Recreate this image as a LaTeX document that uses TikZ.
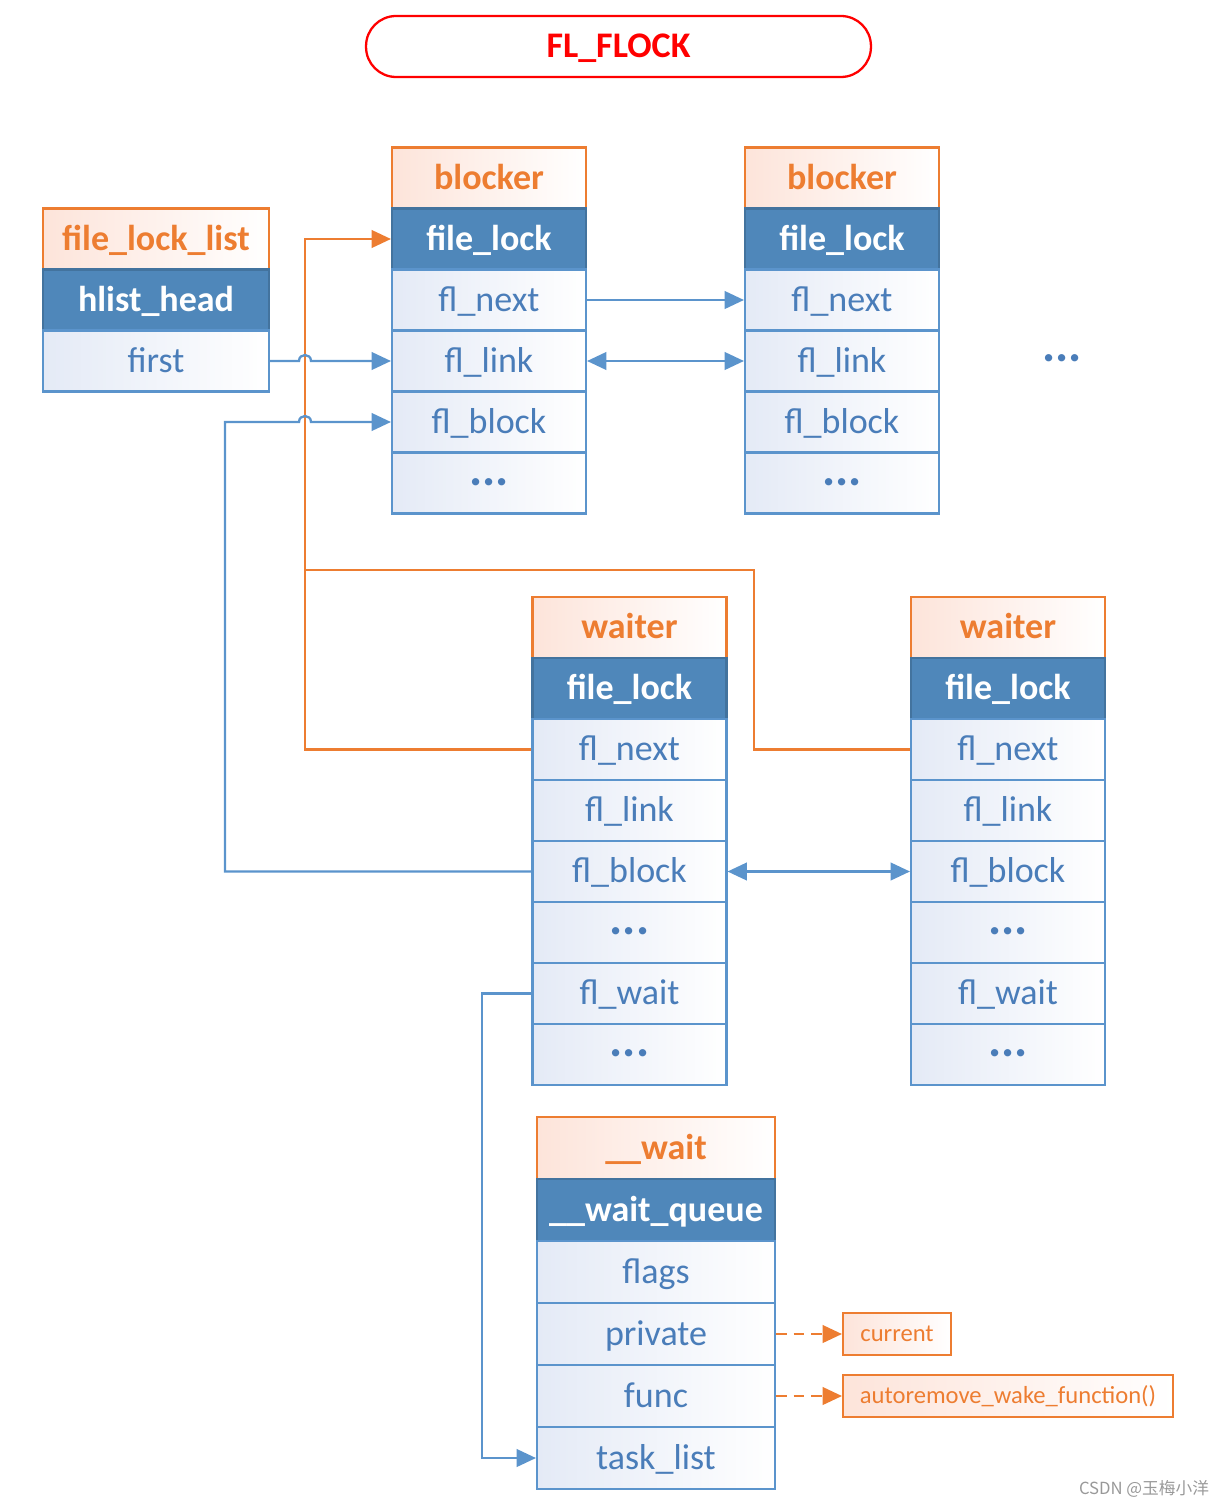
\documentclass[tikz,border=0pt]{standalone}
\usepackage{fontspec}
\setmainfont{Carlito}
\newfontfamily\cjkfont{Noto Sans CJK SC}
\usetikzlibrary{arrows.meta,calc}
\definecolor{orng}{HTML}{ED7D31}
\definecolor{lnblue}{HTML}{5B94CC}
\definecolor{hdblue}{HTML}{4F87BA}
\definecolor{txblue}{HTML}{4A7DB9}
\definecolor{cellbg}{HTML}{E4EAF6}
\definecolor{pinkbg}{HTML}{FDE4DA}
\definecolor{ttlred}{HTML}{FF0000}
\newcommand\celldots{\raisebox{5pt}{\fontsize{28}{28}\selectfont\bfseries ...}}
\begin{document}
\begin{tikzpicture}[x=0.02cm,y=-0.02cm,
    base/.style={rectangle, line width=1.2pt, inner sep=0pt, minimum height=1.22cm,
      text height=16.7pt, text depth=4pt},
    hdr/.style={base, draw=orng, text=orng, font=\fontsize{20.5}{24}\selectfont\bfseries,
      left color=pinkbg, right color=white},
    key/.style={base, draw=hdblue!85!black, fill=hdblue, text=white,
      font=\fontsize{20.5}{24}\selectfont\bfseries},
    cell/.style={base, draw=lnblue, text=txblue, font=\fontsize{20.5}{24}\selectfont,
      left color=cellbg, right color=white},
    tall/.style={minimum height=1.24cm},
    wl/.style={minimum width=4.52cm},
    wn/.style={minimum width=3.88cm},
    ww/.style={minimum width=4.76cm},
    note/.style={rectangle, draw=orng, line width=1.2pt, text=orng, inner sep=0pt,
      minimum height=0.84cm, font=\fontsize{14}{16}\selectfont,
      left color=pinkbg, right color=white},
    title/.style={rectangle, rounded corners=0.6cm, draw=ttlred, line width=1.3pt,
      minimum width=10.1cm, minimum height=1.22cm, text=ttlred, inner sep=0pt,
      text height=16pt, text depth=3pt, font=\fontsize{20.5}{24}\selectfont\bfseries},
    blarrow/.style={draw=lnblue, line width=1.3pt, -{Triangle[length=11pt,width=10pt]}},
    blboth/.style={draw=lnblue, line width=1.3pt, {Triangle[length=11pt,width=10pt]}-{Triangle[length=11pt,width=10pt]}},
    orline/.style={draw=orng, line width=1.3pt},
    orarrow/.style={orline, -{Triangle[length=11pt,width=10pt]}},
    ordash/.style={orarrow, dash pattern=on 6pt off 4pt}]
    \useasboundingbox (0,0) rectangle (1228,1507);
    \node[title] (ttl) at (618.5,46.5) {FL\_FLOCK};
    \node[hdr, wl] (l0) at (156,239) {file\_lock\_list};
    \node[key, wl] (l1) at (156,300) {hlist\_head};
    \node[cell, wl] (l2) at (156,361) {first};
    \node[hdr, wn] (a0) at (489,178) {blocker};
    \node[key, wn] (a1) at (489,239) {file\_lock};
    \node[cell, wn] (a2) at (489,300) {fl\_next};
    \node[cell, wn] (a3) at (489,361) {fl\_link};
    \node[cell, wn] (a4) at (489,422) {fl\_block};
    \node[cell, wn] (a5) at (489,483) {\celldots};
    \node[hdr, wn] (b0) at (842,178) {blocker};
    \node[key, wn] (b1) at (842,239) {file\_lock};
    \node[cell, wn] (b2) at (842,300) {fl\_next};
    \node[cell, wn] (b3) at (842,361) {fl\_link};
    \node[cell, wn] (b4) at (842,422) {fl\_block};
    \node[cell, wn] (b5) at (842,483) {\celldots};
    \node[text=txblue, inner sep=0pt, font=\fontsize{28}{28}\selectfont\bfseries] (more) at (1062,358) {...};
    \node[hdr, wn] (c0) at (629.5,627.5) {waiter};
    \node[key, wn] (c1) at (629.5,688.5) {file\_lock};
    \node[cell, wn] (c2) at (629.5,749.5) {fl\_next};
    \node[cell, wn] (c3) at (629.5,810.5) {fl\_link};
    \node[cell, wn] (c4) at (629.5,871.5) {fl\_block};
    \node[cell, wn] (c5) at (629.5,932.5) {\celldots};
    \node[cell, wn] (c6) at (629.5,993.5) {fl\_wait};
    \node[cell, wn] (c7) at (629.5,1054.5) {\celldots};
    \node[hdr, wn] (d0) at (1008,627.5) {waiter};
    \node[key, wn] (d1) at (1008,688.5) {file\_lock};
    \node[cell, wn] (d2) at (1008,749.5) {fl\_next};
    \node[cell, wn] (d3) at (1008,810.5) {fl\_link};
    \node[cell, wn] (d4) at (1008,871.5) {fl\_block};
    \node[cell, wn] (d5) at (1008,932.5) {\celldots};
    \node[cell, wn] (d6) at (1008,993.5) {fl\_wait};
    \node[cell, wn] (d7) at (1008,1054.5) {\celldots};
    \node[hdr, ww, tall] (q0) at (656,1148) {\_\_wait};
    \node[key, ww, tall] (q1) at (656,1210) {\_\_wait\_queue};
    \node[cell, ww, tall] (q2) at (656,1272) {flags};
    \node[cell, ww, tall] (q3) at (656,1334) {private};
    \node[cell, ww, tall] (q4) at (656,1396) {func};
    \node[cell, ww, tall] (q5) at (656,1458) {task\_list};
    \node[note, minimum width=2.16cm] (cur) at (897,1334) {current};
    \node[note, minimum width=6.6cm] (awf) at (1008,1396) {autoremove\_wake\_function()};
    \node[text=black!40, font=\cjkfont\fontsize{9.5}{11}\selectfont] (wm) at (1144,1489) {CSDN @玉梅小洋};
    \coordinate (orx) at (305,570);
    \coordinate (orr) at (754,570);
    \coordinate (blx) at (225,422);
    \coordinate (wtx) at (482,1458);
    \draw[orarrow] (c2.west) -| (orx |- a1.west) -- (a1.west);
    \draw[orline] (d2.west) -| (orr) -- (orx);
    \draw[blarrow] (l2.east) -- ($(orx |- l2.east)+(-6,0)$) .. controls +(0,-8) and +(0,-8) .. ($(orx |- l2.east)+(6,0)$) -- (a3.west);
    \draw[blarrow] (c4.west) -| (blx) -- ($(orx |- a4.west)+(-6,0)$) .. controls +(0,-8) and +(0,-8) .. ($(orx |- a4.west)+(6,0)$) -- (a4.west);
    \draw[blarrow] (a2.east) -- (b2.west);
    \draw[blboth] (a3.east) -- (b3.west);
    \draw[blboth] (c4.east) -- (d4.west);
    \draw[blarrow] (c6.west) -| (wtx) -- (q5.west);
    \draw[ordash] (q3.east) -- (cur.west);
    \draw[ordash] (q4.east) -- (awf.west);
  \end{tikzpicture}
\end{document}
